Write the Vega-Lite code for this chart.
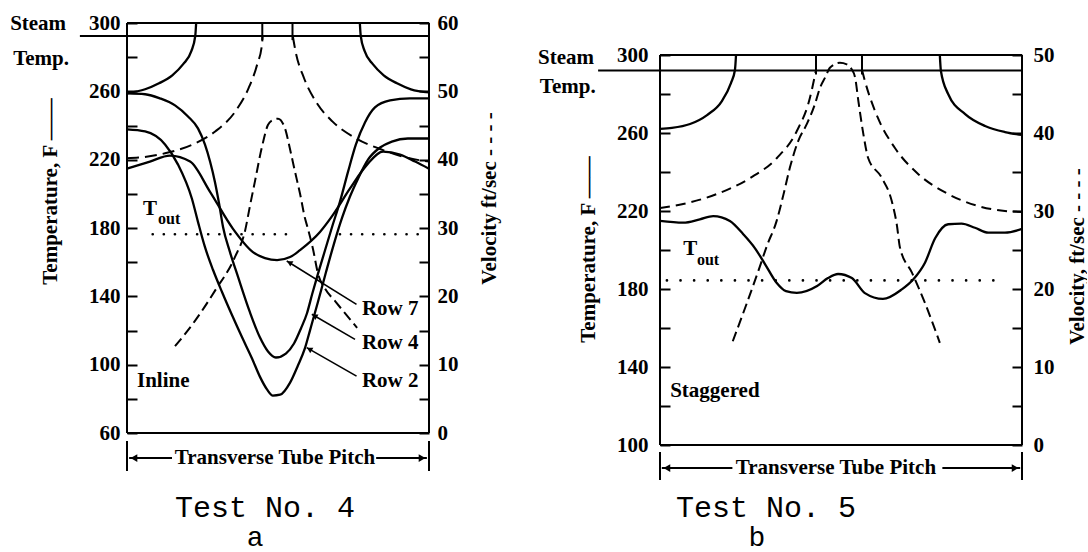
{
  "$schema": "https://vega.github.io/schema/vega-lite/v6.json",
  "background": "white",
  "bounds": "flush",
  "spacing": 231,
  "padding": {"left": 10, "top": 12, "right": 0, "bottom": 0},
  "config": {
    "view": {"stroke": null},
    "axis": {
      "labelFont": "Liberation Serif", "labelFontSize": 21, "labelFontWeight": "bold", "labelColor": "black",
      "titleFont": "Liberation Serif", "titleFontSize": 21, "titleFontWeight": "bold", "titleColor": "black",
      "tickColor": "black", "tickWidth": 2, "domain": false, "grid": false, "labelOverlap": false
    }
  },
  "datasets": {
    "a_curves": [
      {"s": "tubeL", "x": 0, "t": 258.8}, {"s": "tubeL", "x": 6.0, "t": 261.2}, {"s": "tubeL", "x": 10.6, "t": 264.7}, {"s": "tubeL", "x": 15.0, "t": 269.4}, {"s": "tubeL", "x": 18.6, "t": 275.9}, {"s": "tubeL", "x": 21.3, "t": 283.5}, {"s": "tubeL", "x": 22.6, "t": 292.4}, {"s": "tubeL", "x": 22.9, "t": 300},
      {"s": "tubeR", "x": 77.1, "t": 300}, {"s": "tubeR", "x": 77.4, "t": 292.4}, {"s": "tubeR", "x": 78.7, "t": 283.5}, {"s": "tubeR", "x": 81.4, "t": 275.9}, {"s": "tubeR", "x": 85.0, "t": 269.4}, {"s": "tubeR", "x": 89.4, "t": 264.7}, {"s": "tubeR", "x": 94.0, "t": 261.2}, {"s": "tubeR", "x": 100, "t": 259.4},
      {"s": "arcL", "x": 0, "t": 220.8}, {"s": "arcL", "x": 3.8, "t": 221.2}, {"s": "arcL", "x": 12.6, "t": 223.7}, {"s": "arcL", "x": 21.5, "t": 228.7}, {"s": "arcL", "x": 29.2, "t": 236.5}, {"s": "arcL", "x": 35.9, "t": 248.3}, {"s": "arcL", "x": 40.3, "t": 262.0}, {"s": "arcL", "x": 43.1, "t": 275.7}, {"s": "arcL", "x": 44.7, "t": 287.5}, {"s": "arcL", "x": 44.9, "t": 292.4},
      {"s": "arcR", "x": 54.9, "t": 292.4}, {"s": "arcR", "x": 55.8, "t": 283.5}, {"s": "arcR", "x": 58.6, "t": 267.8}, {"s": "arcR", "x": 62.5, "t": 254.1}, {"s": "arcR", "x": 68.0, "t": 242.4}, {"s": "arcR", "x": 75.7, "t": 232.6}, {"s": "arcR", "x": 84.6, "t": 225.7}, {"s": "arcR", "x": 93.5, "t": 220.8}, {"s": "arcR", "x": 100, "t": 218.9},
      {"s": "row2", "x": 0, "t": 237.7}, {"s": "row2", "x": 6.0, "t": 236.5}, {"s": "row2", "x": 12.6, "t": 228.9}, {"s": "row2", "x": 16.9, "t": 217.1}, {"s": "row2", "x": 21.5, "t": 197.1}, {"s": "row2", "x": 23.5, "t": 183.6}, {"s": "row2", "x": 25.8, "t": 168.9}, {"s": "row2", "x": 28.5, "t": 155.4}, {"s": "row2", "x": 31.5, "t": 142.4}, {"s": "row2", "x": 34.8, "t": 128.9}, {"s": "row2", "x": 38.1, "t": 116.0}, {"s": "row2", "x": 41.4, "t": 103.6}, {"s": "row2", "x": 44.0, "t": 93.0}, {"s": "row2", "x": 46.4, "t": 85.4}, {"s": "row2", "x": 48.3, "t": 81.9}, {"s": "row2", "x": 50.7, "t": 82.4}, {"s": "row2", "x": 54.0, "t": 89.5}, {"s": "row2", "x": 56.6, "t": 99.5}, {"s": "row2", "x": 58.9, "t": 109.5}, {"s": "row2", "x": 60.6, "t": 120.1}, {"s": "row2", "x": 63.2, "t": 136.5}, {"s": "row2", "x": 65.9, "t": 154.2}, {"s": "row2", "x": 68.5, "t": 170.6}, {"s": "row2", "x": 71.2, "t": 185.9}, {"s": "row2", "x": 73.8, "t": 198.3}, {"s": "row2", "x": 76.5, "t": 208.9}, {"s": "row2", "x": 79.8, "t": 220.0}, {"s": "row2", "x": 83.8, "t": 227.1}, {"s": "row2", "x": 87.7, "t": 230.6}, {"s": "row2", "x": 93.0, "t": 232.4}, {"s": "row2", "x": 100, "t": 232.4},
      {"s": "row4", "x": 0, "t": 258.8}, {"s": "row4", "x": 6.0, "t": 258.3}, {"s": "row4", "x": 10.9, "t": 255.9}, {"s": "row4", "x": 15.9, "t": 251.8}, {"s": "row4", "x": 20.2, "t": 245.3}, {"s": "row4", "x": 23.5, "t": 238.3}, {"s": "row4", "x": 25.8, "t": 228.9}, {"s": "row4", "x": 27.5, "t": 218.9}, {"s": "row4", "x": 29.1, "t": 207.1}, {"s": "row4", "x": 30.5, "t": 194.2}, {"s": "row4", "x": 31.8, "t": 180.6}, {"s": "row4", "x": 34.1, "t": 165.9}, {"s": "row4", "x": 36.8, "t": 151.2}, {"s": "row4", "x": 40.7, "t": 130.7}, {"s": "row4", "x": 44.0, "t": 116.0}, {"s": "row4", "x": 46.7, "t": 107.7}, {"s": "row4", "x": 49.3, "t": 104.2}, {"s": "row4", "x": 52.6, "t": 106.5}, {"s": "row4", "x": 55.3, "t": 112.4}, {"s": "row4", "x": 57.6, "t": 121.2}, {"s": "row4", "x": 59.6, "t": 130.1}, {"s": "row4", "x": 61.3, "t": 141.2}, {"s": "row4", "x": 63.2, "t": 153.0}, {"s": "row4", "x": 65.6, "t": 167.1}, {"s": "row4", "x": 67.9, "t": 180.6}, {"s": "row4", "x": 70.5, "t": 195.3}, {"s": "row4", "x": 73.2, "t": 213.0}, {"s": "row4", "x": 75.8, "t": 228.9}, {"s": "row4", "x": 78.8, "t": 241.8}, {"s": "row4", "x": 82.1, "t": 250.6}, {"s": "row4", "x": 87.1, "t": 254.7}, {"s": "row4", "x": 93.7, "t": 255.9}, {"s": "row4", "x": 100, "t": 255.9},
      {"s": "row7", "x": 0, "t": 214.7}, {"s": "row7", "x": 7.6, "t": 218.9}, {"s": "row7", "x": 14.2, "t": 222.4}, {"s": "row7", "x": 20.9, "t": 218.9}, {"s": "row7", "x": 27.5, "t": 201.2}, {"s": "row7", "x": 35.1, "t": 179.5}, {"s": "row7", "x": 41.7, "t": 165.9}, {"s": "row7", "x": 45.7, "t": 162.4}, {"s": "row7", "x": 49.7, "t": 161.2}, {"s": "row7", "x": 54.0, "t": 163.0}, {"s": "row7", "x": 57.3, "t": 167.1}, {"s": "row7", "x": 63.9, "t": 177.7}, {"s": "row7", "x": 68.2, "t": 187.7}, {"s": "row7", "x": 73.8, "t": 203.0}, {"s": "row7", "x": 79.5, "t": 217.1}, {"s": "row7", "x": 84.8, "t": 224.7}, {"s": "row7", "x": 90.4, "t": 223.0}, {"s": "row7", "x": 95.4, "t": 218.9}, {"s": "row7", "x": 100, "t": 214.7}
    ],
    "a_rules": [
      {"x": 0, "x2": 100, "t": 300, "t2": 300},
      {"x": 0, "x2": 100, "t": 60, "t2": 60},
      {"x": 0, "x2": 0, "t": 60, "t2": 300},
      {"x": 100, "x2": 100, "t": 60, "t2": 300},
      {"x": -15.6, "x2": 100, "t": 292.4, "t2": 292.4},
      {"x": 44.8, "x2": 44.8, "t": 300, "t2": 290},
      {"x": 54.8, "x2": 54.8, "t": 300, "t2": 290},
      {"x": 0, "x2": 0, "t": 55.3, "t2": 37.7},
      {"x": 100, "x2": 100, "t": 55.3, "t2": 37.7},
      {"x": 0.7, "x2": 14.9, "t": 45.3, "t2": 45.3},
      {"x": 82.5, "x2": 99.3, "t": 45.3, "t2": 45.3}
    ],
    "a_tout": [
      {"x": 8.5, "x2": 54.0, "t": 176.3},
      {"x": 70.5, "x2": 99.2, "t": 176.3}
    ],
    "a_leaders": [
      {"x": 76.0, "x2": 52.9, "t": 135.3, "t2": 160.7},
      {"x": 75.5, "x2": 61.2, "t": 114.8, "t2": 129.5},
      {"x": 76.0, "x2": 59.5, "t": 93.3, "t2": 110.0}
    ],
    "a_heads_lead": [
      {"x": 53.8, "t": 159.8}, {"x": 62.1, "t": 128.6}, {"x": 60.4, "t": 109.1}
    ],
    "a_heads_end": [
      {"x": 2.3, "t": 45.3, "dir": "left"}, {"x": 97.7, "t": 45.3, "dir": "right"}
    ],
    "a_labels": [
      {"label": "Steam", "x": -38.7, "t": 299.4},
      {"label": "Temp.", "x": -37.7, "t": 278.9},
      {"label": "Inline", "x": 3.3, "t": 90.4},
      {"label": "Row 7", "x": 77.8, "t": 132.6},
      {"label": "Row 4", "x": 77.8, "t": 112.7},
      {"label": "Row 2", "x": 77.8, "t": 90.4},
      {"label": "T", "x": 5.3, "t": 191.1}
    ],
    "a_sub": [{"label": "out", "x": 10.3, "t": 185.3}],
    "a_center": [{"label": "Transverse Tube Pitch", "x": 49, "t": 45.3}],
    "a_caption": [{"label": "Test No. 4", "x": 45.7, "t": 16.1}],
    "a_letter": [{"label": "a", "x": 42.4, "t": -1.5}],
    "a_vel": [
      {"x": 15.9, "v": 12.7}, {"x": 22.5, "v": 16.4}, {"x": 29.1, "v": 20.8}, {"x": 35.8, "v": 25.8}, {"x": 39.1, "v": 29.6}, {"x": 40.7, "v": 33.2}, {"x": 42.4, "v": 36.9}, {"x": 44.6, "v": 41.7}, {"x": 46.7, "v": 45.1}, {"x": 48.3, "v": 45.8}, {"x": 50.0, "v": 46.0}, {"x": 52.3, "v": 44.6}, {"x": 53.9, "v": 41.7}, {"x": 55.6, "v": 38.3}, {"x": 57.3, "v": 35.0}, {"x": 58.9, "v": 31.5}, {"x": 59.9, "v": 29.9}, {"x": 61.6, "v": 26.9}, {"x": 63.2, "v": 23.4}, {"x": 65.6, "v": 21.1}, {"x": 68.9, "v": 19.3}, {"x": 76.2, "v": 15.4}
    ],
    "b_curves": [
      {"s": "tubeL", "x": 0, "t": 262.1}, {"s": "tubeL", "x": 3.3, "t": 262.6}, {"s": "tubeL", "x": 8.3, "t": 264.6}, {"s": "tubeL", "x": 13.0, "t": 269.2}, {"s": "tubeL", "x": 17.1, "t": 276.4}, {"s": "tubeL", "x": 19.6, "t": 285.6}, {"s": "tubeL", "x": 20.7, "t": 292.3}, {"s": "tubeL", "x": 21.0, "t": 300},
      {"s": "tubeR", "x": 77.3, "t": 300}, {"s": "tubeR", "x": 77.6, "t": 291.8}, {"s": "tubeR", "x": 79.6, "t": 280.0}, {"s": "tubeR", "x": 84.3, "t": 269.7}, {"s": "tubeR", "x": 89.8, "t": 263.6}, {"s": "tubeR", "x": 95.3, "t": 260.5}, {"s": "tubeR", "x": 100, "t": 259.0},
      {"s": "arcL", "x": 0, "t": 221.5}, {"s": "arcL", "x": 6.4, "t": 223.6}, {"s": "arcL", "x": 15.7, "t": 228.7}, {"s": "arcL", "x": 24.9, "t": 236.9}, {"s": "arcL", "x": 32.3, "t": 247.2}, {"s": "arcL", "x": 37.8, "t": 261.0}, {"s": "arcL", "x": 41.4, "t": 277.9}, {"s": "arcL", "x": 43.1, "t": 292.3},
      {"s": "arcR", "x": 55.8, "t": 292.3}, {"s": "arcR", "x": 56.6, "t": 286.7}, {"s": "arcR", "x": 60.2, "t": 267.7}, {"s": "arcR", "x": 64.9, "t": 252.3}, {"s": "arcR", "x": 71.3, "t": 239.0}, {"s": "arcR", "x": 79.6, "t": 228.7}, {"s": "arcR", "x": 87.8, "t": 222.6}, {"s": "arcR", "x": 95.3, "t": 220.0}, {"s": "arcR", "x": 100, "t": 219.5},
      {"s": "temp", "x": 0, "t": 214.9}, {"s": "temp", "x": 6.4, "t": 214.0}, {"s": "temp", "x": 11.0, "t": 215.7}, {"s": "temp", "x": 14.7, "t": 217.4}, {"s": "temp", "x": 19.3, "t": 214.9}, {"s": "temp", "x": 23.0, "t": 208.1}, {"s": "temp", "x": 26.2, "t": 201.0}, {"s": "temp", "x": 29.0, "t": 192.8}, {"s": "temp", "x": 32.2, "t": 183.2}, {"s": "temp", "x": 34.8, "t": 178.9}, {"s": "temp", "x": 37.8, "t": 178.0}, {"s": "temp", "x": 43.4, "t": 181.5}, {"s": "temp", "x": 46.4, "t": 185.6}, {"s": "temp", "x": 49.2, "t": 187.7}, {"s": "temp", "x": 53.0, "t": 185.6}, {"s": "temp", "x": 56.6, "t": 177.9}, {"s": "temp", "x": 61.6, "t": 174.9}, {"s": "temp", "x": 66.8, "t": 179.8}, {"s": "temp", "x": 70.0, "t": 185.0}, {"s": "temp", "x": 73.2, "t": 193.5}, {"s": "temp", "x": 76.0, "t": 206.0}, {"s": "temp", "x": 79.6, "t": 213.2}, {"s": "temp", "x": 83.3, "t": 213.5}, {"s": "temp", "x": 87.0, "t": 211.4}, {"s": "temp", "x": 90.7, "t": 208.9}, {"s": "temp", "x": 95.3, "t": 208.9}, {"s": "temp", "x": 100, "t": 210.8}
    ],
    "b_rules": [
      {"x": 0, "x2": 100, "t": 300, "t2": 300},
      {"x": 0, "x2": 100, "t": 100, "t2": 100},
      {"x": 0, "x2": 0, "t": 100, "t2": 300},
      {"x": 100, "x2": 100, "t": 100, "t2": 300},
      {"x": -17.1, "x2": 100, "t": 292.1, "t2": 292.1},
      {"x": 43.1, "x2": 43.1, "t": 300, "t2": 290},
      {"x": 55.8, "x2": 55.8, "t": 300, "t2": 290},
      {"x": 0, "x2": 0, "t": 96.4, "t2": 82.1},
      {"x": 100, "x2": 100, "t": 96.4, "t2": 82.1},
      {"x": 0.5, "x2": 20, "t": 88.2, "t2": 88.2},
      {"x": 78, "x2": 99.5, "t": 88.2, "t2": 88.2}
    ],
    "b_tout": [{"x": 1.9, "x2": 93, "t": 184.4}],
    "b_heads_end": [
      {"x": 1.9, "t": 88.2, "dir": "left"}, {"x": 98.1, "t": 88.2, "dir": "right"}
    ],
    "b_labels": [
      {"label": "Steam", "x": -33.7, "t": 298.5},
      {"label": "Temp.", "x": -33.2, "t": 283.6},
      {"label": "Staggered", "x": 2.8, "t": 127.7},
      {"label": "T", "x": 6.4, "t": 200.5}
    ],
    "b_sub": [{"label": "out", "x": 10.2, "t": 194.9}],
    "b_center": [{"label": "Transverse Tube Pitch", "x": 48.6, "t": 88.2}],
    "b_caption": [{"label": "Test No. 5", "x": 29.3, "t": 67.7}],
    "b_letter": [{"label": "b", "x": 26.8, "t": 52.3}],
    "b_vel": [
      {"x": 20.1, "v": 13.3}, {"x": 24.0, "v": 18.2}, {"x": 27.6, "v": 22.9}, {"x": 29.5, "v": 25.5}, {"x": 32.2, "v": 28.7}, {"x": 34.1, "v": 32.1}, {"x": 35.9, "v": 35.6}, {"x": 38.2, "v": 39.0}, {"x": 40.5, "v": 41.1}, {"x": 42.8, "v": 43.7}, {"x": 44.2, "v": 45.8}, {"x": 45.6, "v": 47.1}, {"x": 47.0, "v": 48.4}, {"x": 49.7, "v": 49.0}, {"x": 51.6, "v": 48.8}, {"x": 52.9, "v": 48.2}, {"x": 53.9, "v": 47.1}, {"x": 54.8, "v": 44.1}, {"x": 56.2, "v": 39.8}, {"x": 57.5, "v": 36.8}, {"x": 61.2, "v": 34.3}, {"x": 64.0, "v": 31.3}, {"x": 65.4, "v": 28.3}, {"x": 66.3, "v": 25.3}, {"x": 69.6, "v": 22.1}, {"x": 73.2, "v": 18.2}, {"x": 77.3, "v": 13.1}
    ]
  },
  "hconcat": [
    {
      "width": 302,
      "height": 410,
      "layer": [
        {
          "encoding": {
            "x": {"field": "x", "type": "quantitative", "scale": {"domain": [0, 100], "nice": false}, "axis": null},
            "y": {
              "field": "t", "type": "quantitative",
              "scale": {"domain": [60, 300], "nice": false, "zero": false},
              "axis": {
                "orient": "left",
                "values": [60, 80, 100, 120, 140, 160, 180, 200, 220, 240, 260, 280, 300],
                "labelExpr": "(datum.value - 60) % 40 == 0 ? datum.label : ''",
                "tickSize": -10, "labelPadding": 17,
                "title": "Temperature, F  ——", "titlePadding": 28, "titleY": 168
              }
            }
          },
          "layer": [
            {"data": {"name": "a_rules"}, "mark": {"type": "rule", "color": "black", "strokeWidth": 2}, "encoding": {"x2": {"field": "x2"}, "y2": {"field": "t2"}}},
            {"data": {"name": "a_tout"}, "mark": {"type": "rule", "color": "black", "strokeWidth": 2.6, "strokeDash": [0.1, 11], "strokeCap": "round"}, "encoding": {"x2": {"field": "x2"}}},
            {"data": {"name": "a_leaders"}, "mark": {"type": "rule", "color": "black", "strokeWidth": 1.6}, "encoding": {"x2": {"field": "x2"}, "y2": {"field": "t2"}}},
            {"data": {"name": "a_curves"}, "transform": [{"filter": {"field": "s", "oneOf": ["tubeL", "tubeR", "row2", "row4", "row7"]}}], "mark": {"type": "line", "color": "black", "strokeWidth": 2.3, "interpolate": "monotone"}, "encoding": {"detail": {"field": "s"}}},
            {"data": {"name": "a_curves"}, "transform": [{"filter": {"field": "s", "oneOf": ["arcL", "arcR"]}}], "mark": {"type": "line", "color": "black", "strokeWidth": 2, "strokeDash": [12, 6], "interpolate": "monotone"}, "encoding": {"detail": {"field": "s"}}},
            {"data": {"name": "a_heads_lead"}, "mark": {"type": "point", "shape": "triangle-right", "angle": 210, "filled": true, "color": "black", "size": 40, "opacity": 1}},
            {"data": {"name": "a_heads_end"}, "mark": {"type": "point", "filled": true, "color": "black", "size": 60, "opacity": 1}, "encoding": {"shape": {"field": "dir", "type": "nominal", "scale": {"domain": ["left", "right"], "range": ["triangle-left", "triangle-right"]}, "legend": null}}},
            {"data": {"name": "a_labels"}, "mark": {"type": "text", "align": "left", "baseline": "middle", "font": "Liberation Serif", "fontSize": 21, "fontWeight": "bold", "color": "black"}, "encoding": {"text": {"field": "label"}}},
            {"data": {"name": "a_sub"}, "mark": {"type": "text", "align": "left", "baseline": "middle", "font": "Liberation Serif", "fontSize": 16, "fontWeight": "bold", "color": "black"}, "encoding": {"text": {"field": "label"}}},
            {"data": {"name": "a_center"}, "mark": {"type": "text", "align": "center", "baseline": "middle", "font": "Liberation Serif", "fontSize": 21, "fontWeight": "bold", "color": "black"}, "encoding": {"text": {"field": "label"}}},
            {"data": {"name": "a_caption"}, "mark": {"type": "text", "align": "center", "baseline": "middle", "font": "Liberation Mono", "fontSize": 30, "color": "black"}, "encoding": {"text": {"field": "label"}}},
            {"data": {"name": "a_letter"}, "mark": {"type": "text", "align": "center", "baseline": "middle", "font": "Liberation Mono", "fontSize": 28, "color": "black"}, "encoding": {"text": {"field": "label"}}}
          ]
        },
        {
          "data": {"name": "a_vel"},
          "mark": {"type": "line", "color": "black", "strokeWidth": 2, "strokeDash": [10, 5], "interpolate": "monotone"},
          "encoding": {
            "x": {"field": "x", "type": "quantitative", "scale": {"domain": [0, 100], "nice": false}, "axis": null},
            "y": {
              "field": "v", "type": "quantitative",
              "scale": {"domain": [0, 60], "nice": false},
              "axis": {
                "orient": "right",
                "values": [0, 5, 10, 15, 20, 25, 30, 35, 40, 45, 50, 55, 60],
                "labelExpr": "datum.value % 10 == 0 ? datum.label : ''",
                "tickSize": -10, "labelPadding": 18,
                "title": "Velocity ft/sec - - - -", "titleAngle": 270, "titlePadding": 41, "titleY": 175
              }
            }
          }
        }
      ],
      "resolve": {"scale": {"y": "independent"}, "axis": {"y": "independent"}}
    },
    {
      "width": 362,
      "height": 422,
      "layer": [
        {
          "encoding": {
            "x": {"field": "x", "type": "quantitative", "scale": {"domain": [0, 100], "nice": false}, "axis": null},
            "y": {
              "field": "t", "type": "quantitative",
              "scale": {"domain": [100, 300], "range": [422, 32], "nice": false, "zero": false},
              "axis": {
                "orient": "left",
                "values": [100, 120, 140, 160, 180, 200, 220, 240, 260, 280, 300],
                "labelExpr": "(datum.value - 100) % 40 == 0 ? datum.label : ''",
                "tickSize": -10, "labelPadding": 22,
                "title": "Temperature, F  ——", "titlePadding": 18, "titleY": 226
              }
            }
          },
          "layer": [
            {"data": {"name": "b_rules"}, "mark": {"type": "rule", "color": "black", "strokeWidth": 2}, "encoding": {"x2": {"field": "x2"}, "y2": {"field": "t2"}}},
            {"data": {"name": "b_tout"}, "mark": {"type": "rule", "color": "black", "strokeWidth": 2.6, "strokeDash": [0.1, 13.5], "strokeCap": "round"}, "encoding": {"x2": {"field": "x2"}}},
            {"data": {"name": "b_curves"}, "transform": [{"filter": {"field": "s", "oneOf": ["tubeL", "tubeR", "temp"]}}], "mark": {"type": "line", "color": "black", "strokeWidth": 2.3, "interpolate": "monotone"}, "encoding": {"detail": {"field": "s"}}},
            {"data": {"name": "b_curves"}, "transform": [{"filter": {"field": "s", "oneOf": ["arcL", "arcR"]}}], "mark": {"type": "line", "color": "black", "strokeWidth": 2, "strokeDash": [10, 6], "interpolate": "monotone"}, "encoding": {"detail": {"field": "s"}}},
            {"data": {"name": "b_heads_end"}, "mark": {"type": "point", "filled": true, "color": "black", "size": 60, "opacity": 1}, "encoding": {"shape": {"field": "dir", "type": "nominal", "scale": {"domain": ["left", "right"], "range": ["triangle-left", "triangle-right"]}, "legend": null}}},
            {"data": {"name": "b_labels"}, "mark": {"type": "text", "align": "left", "baseline": "middle", "font": "Liberation Serif", "fontSize": 21, "fontWeight": "bold", "color": "black"}, "encoding": {"text": {"field": "label"}}},
            {"data": {"name": "b_sub"}, "mark": {"type": "text", "align": "left", "baseline": "middle", "font": "Liberation Serif", "fontSize": 16, "fontWeight": "bold", "color": "black"}, "encoding": {"text": {"field": "label"}}},
            {"data": {"name": "b_center"}, "mark": {"type": "text", "align": "center", "baseline": "middle", "font": "Liberation Serif", "fontSize": 21, "fontWeight": "bold", "color": "black"}, "encoding": {"text": {"field": "label"}}},
            {"data": {"name": "b_caption"}, "mark": {"type": "text", "align": "center", "baseline": "middle", "font": "Liberation Mono", "fontSize": 30, "color": "black"}, "encoding": {"text": {"field": "label"}}},
            {"data": {"name": "b_letter"}, "mark": {"type": "text", "align": "center", "baseline": "middle", "font": "Liberation Mono", "fontSize": 28, "color": "black"}, "encoding": {"text": {"field": "label"}}}
          ]
        },
        {
          "data": {"name": "b_vel"},
          "mark": {"type": "line", "color": "black", "strokeWidth": 2, "strokeDash": [10, 5], "interpolate": "monotone"},
          "encoding": {
            "x": {"field": "x", "type": "quantitative", "scale": {"domain": [0, 100], "nice": false}, "axis": null},
            "y": {
              "field": "v", "type": "quantitative",
              "scale": {"domain": [0, 50], "range": [422, 32], "nice": false},
              "axis": {
                "orient": "right",
                "values": [0, 5, 10, 15, 20, 25, 30, 35, 40, 45, 50],
                "labelExpr": "datum.value % 10 == 0 ? datum.label : ''",
                "tickSize": -10, "labelPadding": 21,
                "title": "Velocity, ft/sec - - - -", "titleAngle": 270, "titlePadding": 33, "titleY": 233
              }
            }
          }
        }
      ],
      "resolve": {"scale": {"y": "independent"}, "axis": {"y": "independent"}}
    }
  ]
}
